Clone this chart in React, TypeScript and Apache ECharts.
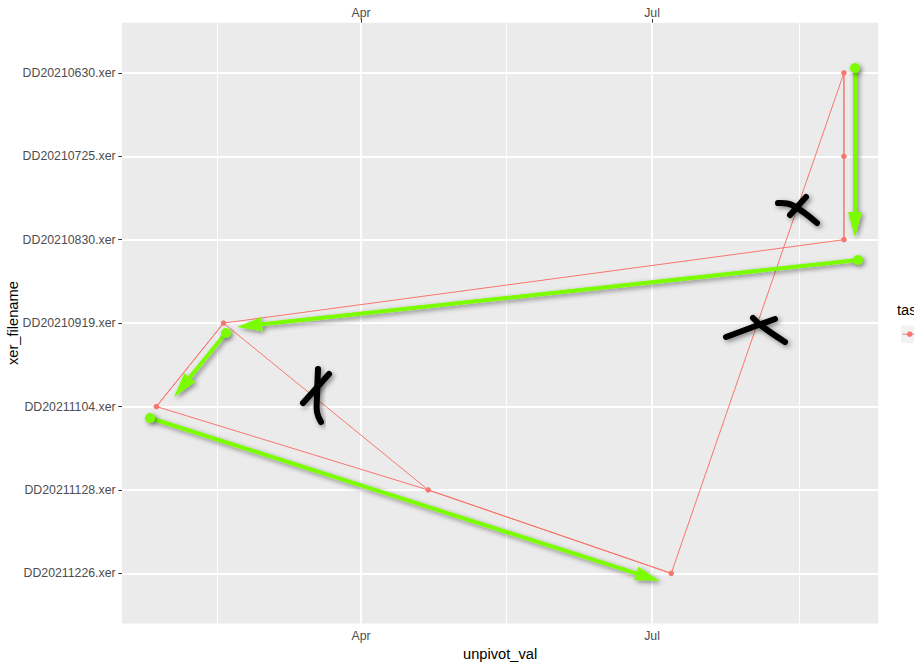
import React, { useEffect, useRef } from 'react';
import * as echarts from 'echarts';

const categories = [
  'DD20210630.xer',
  'DD20210725.xer',
  'DD20210830.xer',
  'DD20210919.xer',
  'DD20211104.xer',
  'DD20211128.xer',
  'DD20211226.xer',
];
const unpivotDates = [
  '2021-08-30',
  '2021-08-30',
  '2021-08-30',
  '2021-02-17',
  '2021-01-27',
  '2021-04-22',
  '2021-07-07',
];
const majorBreaks = ['2021-04-01', '2021-07-01'];
const majorLabels = ['Apr', 'Jul'];
const minorBreaks = ['2021-02-15', '2021-05-16T12:00:00', '2021-08-16'];
const legendTitle = 'task_name';
const seriesName = 'task';

const ts = (d: string) => new Date(d.length > 10 ? d + 'Z' : d + 'T00:00:00Z').getTime();

const RED = '#F8766D';
const GREEN = '#7CFC00';
const SHADOW = { shadowBlur: 5, shadowOffsetX: 2, shadowOffsetY: 2, shadowColor: 'rgba(0,0,0,0.45)' };

function arrow(x1: number, y1: number, x2: number, y2: number) {
  const L = 25;
  const hw = 7;
  const sw = 2;
  const dx = x2 - x1;
  const dy = y2 - y1;
  const len = Math.sqrt(dx * dx + dy * dy);
  const ux = dx / len;
  const uy = dy / len;
  const bx = x2 - ux * L;
  const by = y2 - uy * L;
  const px = -uy;
  const py = ux;
  return {
    type: 'group',
    z: 100,
    children: [
      {
        type: 'polygon',
        z: 100,
        shape: {
          points: [
            [x1 + px * sw, y1 + py * sw],
            [bx + px * sw, by + py * sw],
            [bx + px * hw, by + py * hw],
            [x2, y2],
            [bx - px * hw, by - py * hw],
            [bx - px * sw, by - py * sw],
            [x1 - px * sw, y1 - py * sw],
          ],
        },
        style: { fill: GREEN, ...SHADOW },
      },
      {
        type: 'circle',
        z: 100,
        shape: { cx: x1, cy: y1, r: 5 },
        style: { fill: GREEN, ...SHADOW },
      },
    ],
  };
}

function stroke(points: number[][]) {
  return {
    type: 'polyline',
    z: 100,
    shape: { points, smooth: 0.4 },
    style: {
      stroke: '#000',
      lineWidth: 6,
      lineCap: 'round',
      lineJoin: 'round',
      fill: 'none',
      ...SHADOW,
    },
  };
}

export default function App() {
  const ref = useRef<HTMLDivElement>(null);
  useEffect(() => {
    document.body.style.margin = '0';
    const chart = echarts.init(ref.current!, null, { renderer: 'svg' });

    const times = unpivotDates.map(ts);
    const tMin = Math.min(...times);
    const tMax = Math.max(...times);
    const range = tMax - tMin;
    const xMin = tMin - 0.05 * range;
    const xMax = tMax + 0.05 * range;
    const majors = majorBreaks.map(ts);
    const minors = minorBreaks.map(ts);

    const pathData = categories.map((c, i) => [times[i], i]);
    const order = categories.map((c, i) => i).sort((a, b) => times[a] - times[b] || a - b);
    const lineData = order.map((i) => [times[i], i]);

    const labelFmt = (v: number) => {
      const k = majors.findIndex((m) => Math.abs(m - v) < 3600e3);
      return k >= 0 ? majorLabels[k] : '';
    };

    const xAxisBase = {
      type: 'value',
      min: xMin,
      max: xMax,
      splitLine: { show: false },
      axisLine: { show: false },
      axisTick: { show: true, customValues: majors, length: 3.7, lineStyle: { color: '#333333', width: 1 } },
    };

    const option: any = {
      animation: false,
      textStyle: { fontFamily: 'Liberation Sans, Arial, sans-serif' },
      grid: {
        left: 122,
        right: 35.7,
        top: 22.8,
        bottom: 40.6,
        show: true,
        backgroundColor: '#EBEBEB',
        borderWidth: 0,
        containLabel: false,
        outerBoundsMode: 'none',
      },
      xAxis: [
        {
          ...xAxisBase,
          position: 'bottom',
          name: 'unpivot_val',
          nameLocation: 'middle',
          nameGap: 23,
          nameMoveOverlap: false,
          nameTextStyle: { fontSize: 14.67, color: '#000', verticalAlign: 'top' },
          axisLabel: { customValues: majors, formatter: labelFmt, fontSize: 12.3, color: '#4D4D4D', margin: 6.4 },
        },
        {
          ...xAxisBase,
          position: 'top',
          axisLabel: { customValues: majors, formatter: labelFmt, fontSize: 12.3, color: '#4D4D4D', margin: 4 },
        },
      ],
      yAxis: {
        type: 'value',
        min: -0.6,
        max: 6.6,
        inverse: true,
        splitLine: { show: false },
        axisLine: { show: false },
        axisTick: {
          show: true,
          customValues: categories.map((c, i) => i),
          length: 3.7,
          lineStyle: { color: '#333333', width: 1 },
        },
        axisLabel: {
          customValues: categories.map((c, i) => i),
          formatter: (v: number) => categories[Math.round(v)] ?? '',
          fontSize: 12.3,
          color: '#4D4D4D',
          margin: 6.4,
        },
        name: 'xer_filename',
        nameLocation: 'middle',
        nameGap: 102,
        nameMoveOverlap: false,
        nameTextStyle: { fontSize: 14.67, color: '#000' },
      },
      series: [
        {
          type: 'line',
          name: 'grid',
          z: 1,
          silent: true,
          data: [[xMin, -0.6]],
          showSymbol: false,
          symbolSize: 0,
          lineStyle: { opacity: 0 },
          itemStyle: { opacity: 0 },
          markLine: {
            z: 1,
            silent: true,
            symbol: ['none', 'none'],
            label: { show: false },
            lineStyle: { color: '#FFFFFF', type: 'solid' },
            emphasis: { disabled: true },
            data: [
              ...minors.map((v) => ({ xAxis: v, lineStyle: { width: 0.95, color: '#FFFFFF', type: 'solid' } })),
              ...majors.map((v) => ({ xAxis: v, lineStyle: { width: 1.9, color: '#FFFFFF', type: 'solid' } })),
              ...categories.map((c, i) => ({ yAxis: i, lineStyle: { width: 1.9, color: '#FFFFFF', type: 'solid' } })),
            ],
          },
        },
        {
          type: 'line',
          name: seriesName,
          z: 3,
          data: pathData,
          showSymbol: false,
          lineStyle: { color: RED, width: 1 },
          itemStyle: { color: RED },
        },
        {
          type: 'line',
          name: seriesName,
          z: 3,
          data: lineData,
          showSymbol: false,
          lineStyle: { color: RED, width: 1 },
          itemStyle: { color: RED },
        },
        {
          type: 'scatter',
          name: seriesName,
          z: 4,
          data: pathData,
          symbol: 'circle',
          symbolSize: 5.5,
          itemStyle: { color: RED, opacity: 1 },
        },
      ],
      graphic: [
        {
          type: 'text',
          left: 897,
          top: 302,
          style: { text: legendTitle, fontSize: 14.67, fill: '#000', fontFamily: 'Liberation Sans, Arial, sans-serif' },
        },
        { type: 'rect', shape: { x: 901, y: 325.5, width: 17.3, height: 17.3 }, style: { fill: '#F2F2F2' } },
        { type: 'line', shape: { x1: 902.5, y1: 334.2, x2: 917, y2: 334.2 }, style: { stroke: RED, lineWidth: 1 } },
        { type: 'circle', shape: { cx: 909.7, cy: 334.2, r: 2.75 }, style: { fill: RED } },
        arrow(855, 68, 855, 237),
        arrow(858, 260, 237, 327),
        arrow(226, 333, 174, 397),
        arrow(150, 418, 660, 581),
        stroke([[778, 203], [792, 205], [817, 223]]),
        stroke([[806, 197], [790, 215]]),
        stroke([[726, 337], [753, 327], [775, 319]]),
        stroke([[753, 318], [763, 327], [785, 342]]),
        stroke([[318, 369], [317, 397], [317, 412], [321, 422]]),
        stroke([[329, 374], [303, 403]]),
      ],
    };

    chart.setOption(option);
    return () => chart.dispose();
  }, []);
  return <div ref={ref} style={{ width: 914, height: 664 }} />;
}
